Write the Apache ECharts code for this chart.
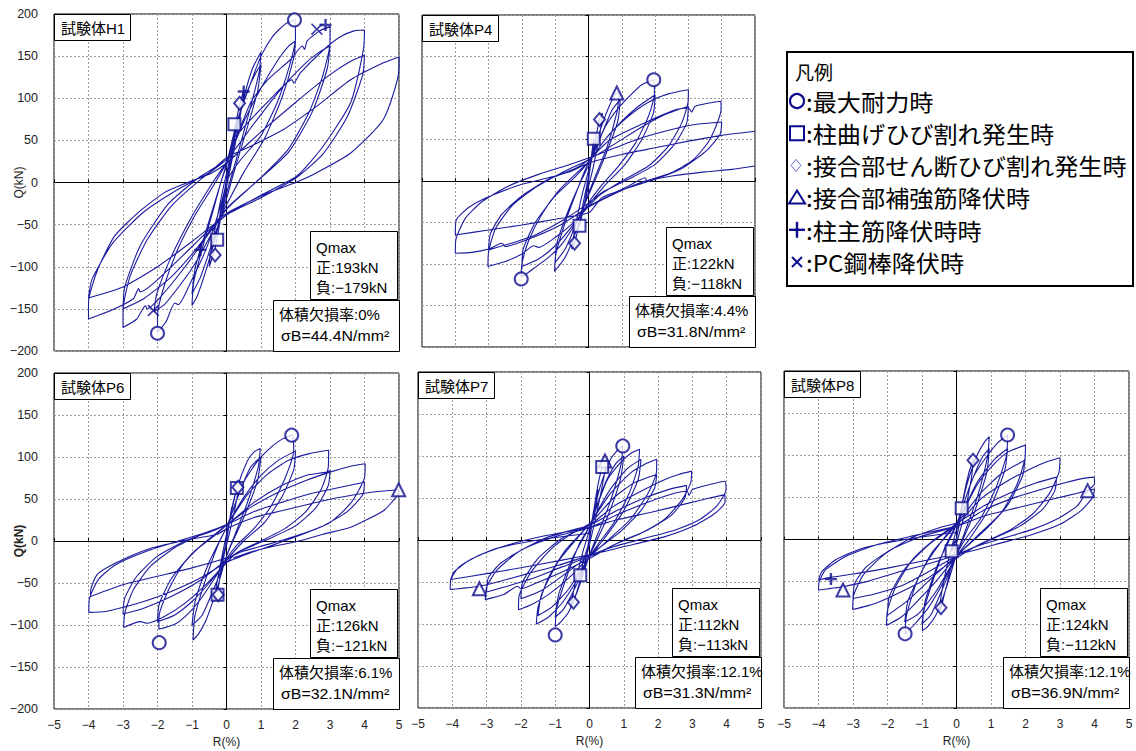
<!DOCTYPE html>
<html>
<head>
<meta charset="utf-8">
<script src="https://cdn.jsdelivr.net/npm/echarts@6/dist/echarts.min.js"></script>
<style>
  html, body { margin: 0; padding: 0; background: #fff; }
  #chart { width: 1136px; height: 751px; }
</style>
</head>
<body>
<div id="chart"></div>
<script>
// ---------- specimen data ----------
const specimens = ['試験体H1', '試験体P4', '試験体P6', '試験体P7', '試験体P8'];
const qmaxPos = [193, 122, 126, 112, 124];          // kN
const qmaxNeg = [-179, -118, -121, -113, -112];     // kN
const qmaxDrift = [[1.97, -2.0], [1.96, -2.02], [1.89, -1.95], [0.97, -1.0], [1.48, -1.49]]; // R(%) at +/- Qmax
const voidRatio = ['0%', '4.4%', '6.1%', '12.1%', '12.1%'];
const sigmaB = ['44.4', '31.8', '32.1', '31.3', '36.9'];   // N/mm2

const eventNames = ['最大耐力時', '柱曲げひび割れ発生時', '接合部せん断ひび割れ発生時',
                    '接合部補強筋降伏時', '柱主筋降伏時時', 'PC鋼棒降伏時'];

// Q-R hysteresis, [R(%), Q(kN)]
const loopH1 = [
  [0,0],[0.1,25],[0.25,58],[0.2,42],[0.05,10],[-0.1,-22],[-0.25,-55],[-0.2,-40],[-0.05,-8],
  [0.1,28],[0.23,62],[0.38,92],[0.5,110],[0.45,92],[0.25,45],[0.05,5],[-0.15,-38],[-0.33,-78],[-0.5,-100],[-0.45,-82],[-0.25,-38],[-0.05,2],
  [0.2,45],[0.5,100],[0.75,135],[1.0,155],[0.95,132],[0.7,90],[0.4,45],[0.15,8],[-0.05,-20],[-0.3,-62],[-0.6,-105],[-0.85,-135],[-1.0,-146],[-0.95,-118],[-0.7,-78],[-0.4,-35],[-0.15,2],[0.02,22],
  [0.3,68],[0.6,108],[0.85,130],[1.0,140],[0.9,108],[0.55,58],[0.2,10],[-0.02,-22],[-0.4,-70],[-0.75,-112],[-1.0,-132],[-0.9,-100],[-0.5,-45],[-0.15,2],[0.02,25],
  [0.3,72],[0.7,118],[1.0,150],[1.35,174],[1.7,188],[1.97,193],[2.0,172],[1.85,142],[1.47,95],[0.99,55],[0.41,27],[0.05,5],[-0.2,-32],[-0.6,-80],[-1.0,-115],[-1.4,-145],[-1.5,-143],[-1.75,-165],[-2.0,-178],[-2.0,-158],[-1.8,-122],[-1.4,-78],[-0.9,-38],[-0.4,-5],[0.02,25],
  [0.5,72],[1.0,112],[1.5,146],[1.8,162],[2.0,168],[1.95,148],[1.6,100],[1.1,52],[0.5,12],[0.02,-25],[-0.5,-66],[-1.0,-102],[-1.5,-130],[-1.8,-145],[-2.1,-153],[-2.02,-132],[-1.6,-88],[-1.0,-40],[-0.4,0],[0.02,26],
  [0.7,95],[1.2,122],[1.86,146],[2.2,162],[2.26,158],[2.34,168],[2.7,180],[3.0,185],[3.0,166],[2.8,128],[2.4,84],[1.8,40],[1.0,6],[0.3,-20],[0,-32],[-0.5,-60],[-1.2,-100],[-2.0,-140],[-2.3,-150],[-2.35,-146],[-2.6,-162],[-3.0,-172],[-3.0,-152],[-2.8,-112],[-2.3,-68],[-1.6,-28],[-0.8,2],[0.02,28],
  [0.8,70],[1.6,112],[2.3,142],[2.7,155],[3.0,162],[2.92,135],[2.5,85],[1.8,36],[0.9,2],[0.02,-30],[-0.8,-75],[-1.6,-112],[-2.4,-138],[-3.0,-150],[-2.95,-124],[-2.5,-75],[-1.7,-26],[-0.8,6],[0.02,28],
  [0.2,51],[1.18,95],[1.9,122],[1.95,118],[2.14,130],[2.8,157],[3.3,173],[3.7,180],[4.0,181],[3.97,158],[3.6,95],[2.8,43],[2.05,8],[1.0,-15],[0.02,-38],[-0.6,-60],[-1.5,-96],[-2.5,-130],[-2.55,-126],[-2.7,-138],[-3.3,-151],[-4.0,-162],[-4.0,-142],[-3.73,-103],[-3.25,-64],[-2.57,-36],[-1.8,-12],[-1.12,0],[-0.44,11],[0.03,24],
  [1.0,60],[2.0,95],[3.0,128],[3.6,144],[4.0,151],[3.95,128],[3.5,78],[2.8,34],[2.0,5],[1.0,-18],[0.02,-38],[-1.0,-70],[-2.0,-100],[-3.0,-124],[-4.0,-137],[-3.9,-115],[-3.3,-72],[-2.4,-35],[-1.4,-8],[-0.5,12],[0.02,30],
  [0.7,43],[1.65,63],[2.63,91],[3.6,122],[4.55,142],[5.0,149],[5.0,135],[4.55,75],[3.6,35],[2.63,12],[2.0,0],[1.17,-13],[0.2,-32],[-0.2,-42]
];

const loopP4 = [
  [0,0],[0.08,28],[0.16,51],[0.1,30],[0,2],[-0.12,-28],[-0.27,-54],[-0.2,-35],[-0.05,-5],
  [0.15,38],[0.33,74],[0.42,82],[0.35,60],[0.15,18],[-0.05,-15],[-0.25,-48],[-0.42,-75],[-0.5,-82],[-0.42,-60],[-0.2,-18],[0,12],
  [0.3,55],[0.6,88],[0.85,106],[0.93,106],[0.85,82],[0.55,40],[0.2,5],[-0.05,-20],[-0.35,-58],[-0.7,-92],[-1.02,-109],[-0.98,-88],[-0.7,-50],[-0.35,-12],[-0.05,18],
  [0.35,52],[0.7,85],[0.95,98],[0.88,72],[0.5,30],[0.1,-8],[-0.3,-45],[-0.7,-82],[-1.0,-98],[-0.95,-75],[-0.6,-35],[-0.2,2],[0.02,20],
  [0.5,65],[0.9,88],[1.3,105],[1.6,116],[1.96,122],[1.98,105],[1.8,78],[1.4,45],[0.9,18],[0.4,-5],[0.02,-25],[-0.4,-52],[-0.8,-76],[-1.2,-92],[-1.6,-104],[-1.8,-110],[-2.02,-116],[-2.0,-100],[-1.8,-72],[-1.4,-40],[-0.9,-12],[-0.4,8],[0.02,24],
  [0.5,50],[1.0,72],[1.5,90],[2.0,104],[1.95,82],[1.6,50],[1.1,20],[0.5,-5],[0.02,-28],[-0.5,-55],[-1.0,-78],[-1.5,-94],[-2.0,-103],[-1.96,-82],[-1.6,-50],[-1.0,-18],[-0.4,5],[0.02,24],
  [0.6,55],[1.2,78],[1.8,95],[2.4,105],[3.0,110],[2.99,95],[2.8,70],[2.4,42],[1.8,18],[1.0,0],[0.3,-18],[0.02,-30],[-0.5,-52],[-1.0,-68],[-1.5,-80],[-1.65,-78],[-2.0,-88],[-2.5,-97],[-3.02,-103],[-3.0,-85],[-2.8,-58],[-2.3,-30],[-1.6,-8],[-0.8,10],[0.02,26],
  [0.8,45],[1.6,65],[2.3,80],[3.0,90],[2.95,70],[2.6,45],[2.0,20],[1.2,2],[0.4,-14],[0.02,-26],[-0.8,-48],[-1.6,-65],[-2.4,-76],[-3.0,-83],[-2.95,-64],[-2.6,-40],[-2.0,-18],[-1.2,2],[-0.4,15],[0.02,26],
  [0.63,49],[1.63,69],[2.63,86],[3.0,88],[3.1,83],[3.2,90],[3.63,94],[3.98,96],[3.98,86],[3.63,49],[3.13,25],[2.43,9],[1.63,-1],[0.8,-15],[0.02,-31],[-0.8,-52],[-1.6,-67],[-2.2,-76],[-2.5,-79],[-2.6,-75],[-3.0,-82],[-3.5,-86],[-4.0,-87],[-3.98,-70],[-3.7,-45],[-3.2,-25],[-2.4,-6],[-1.5,8],[-0.7,18],[0.02,28],
  [0.8,40],[1.6,52],[2.5,62],[3.2,68],[4.0,71],[3.95,56],[3.5,35],[2.8,15],[2.0,2],[1.2,-8],[0.4,-20],[0.02,-38],[-1.0,-46],[-2.0,-53],[-3.0,-59],[-4.0,-65],[-3.97,-47],[-3.6,-32],[-3.0,-19],[-2.0,-4],[-1.0,6],[-0.5,12],[0.02,22],
  [1.0,32],[2.0,40],[3.0,48],[4.0,55],[5.0,60]
];
const loopP4Tail = [
  [-0.3,-40],[0.02,-30],[0.6,-18],[1.2,-6],[1.7,4],[1.75,0],[1.85,1],[2.5,6],[3.5,11],[4.3,14],[5.0,18]
];

const loopP6 = [
  [0,0],[0.08,22],[0.15,40],[0.1,25],[0,2],[-0.1,-25],[-0.2,-45],[-0.15,-28],[0,0],
  [0.15,38],[0.3,63],[0.38,72],[0.3,50],[0.1,12],[-0.1,-22],[-0.26,-60],[-0.35,-72],[-0.28,-50],[-0.1,-12],[0.02,12],
  [0.3,62],[0.6,95],[0.8,106],[0.98,110],[0.92,88],[0.6,45],[0.25,8],[0,-18],[-0.3,-60],[-0.6,-95],[-0.8,-110],[-0.97,-118],[-0.92,-90],[-0.6,-45],[-0.25,-5],[0.02,18],
  [0.35,55],[0.7,88],[1.0,100],[0.9,72],[0.5,28],[0.1,-8],[-0.3,-50],[-0.7,-88],[-1.0,-100],[-0.9,-70],[-0.5,-25],[-0.1,8],[0.02,18],
  [0.5,70],[0.9,95],[1.3,112],[1.6,121],[1.9,126],[1.95,108],[1.7,75],[1.3,42],[0.8,15],[0.3,-5],[0.02,-20],[-0.4,-48],[-0.8,-72],[-1.2,-90],[-1.5,-99],[-1.96,-105],[-1.95,-88],[-1.7,-60],[-1.3,-30],[-0.8,-8],[-0.3,8],[0.02,20],
  [0.5,52],[1.0,78],[1.5,96],[2.0,107],[1.95,85],[1.6,52],[1.1,22],[0.5,0],[0.02,-22],[-0.5,-50],[-1.0,-72],[-1.5,-88],[-2.0,-96],[-1.95,-75],[-1.6,-45],[-1.0,-15],[-0.4,6],[0.02,20],
  [0.6,55],[1.2,80],[1.8,96],[2.4,104],[2.96,108],[2.95,88],[2.75,62],[2.3,35],[1.7,15],[1.0,0],[0.3,-14],[0.02,-25],[-0.6,-52],[-1.2,-74],[-1.8,-90],[-2.3,-98],[-2.5,-96],[-2.98,-103],[-2.95,-86],[-2.7,-58],[-2.2,-30],[-1.5,-8],[-0.7,8],[0.02,20],
  [0.8,46],[1.6,66],[2.3,78],[2.9,82],[3.0,84],[2.95,66],[2.6,40],[2.0,18],[1.2,2],[0.4,-12],[0.02,-22],[-0.8,-48],[-1.6,-66],[-2.4,-80],[-3.0,-87],[-2.95,-68],[-2.6,-42],[-2.0,-18],[-1.2,0],[-0.4,12],[0.02,20],
  [0.7,40],[1.5,58],[2.3,72],[3.0,82],[3.6,89],[4.02,92],[4.0,75],[3.6,45],[3.0,22],[2.2,8],[1.4,-4],[0.7,-14],[0.02,-25],[-0.8,-45],[-1.6,-60],[-2.4,-72],[-3.0,-79],[-3.5,-84],[-3.99,-85],[-3.97,-68],[-3.7,-45],[-3.2,-28],[-2.3,-12],[-1.4,0],[-0.6,10],[0.02,20],
  [0.8,35],[1.6,46],[2.4,56],[3.2,63],[4.0,70],[3.95,55],[3.5,35],[2.8,18],[2.0,6],[1.2,-4],[0.5,-12],[0.02,-20],[-1.0,-32],[-2.0,-42],[-3.0,-52],[-3.94,-66],[-3.94,-60],[-3.75,-40],[-3.2,-26],[-2.3,-10],[-1.3,0],[-0.27,8],[0.02,15],
  [0.8,28],[1.6,36],[2.5,45],[3.3,52],[4.2,58],[4.99,61],[4.95,54],[4.55,36],[4.0,24],[3.58,16],[2.8,8],[2.1,0],[1.4,-6],[0.7,-13],[0.2,-20]
];

const loopP7 = [
  [0,0],[0.1,30],[0.25,60],[0.2,42],[0,5],[-0.1,-22],[-0.25,-42],[-0.2,-28],[0,0],
  [0.2,55],[0.37,87],[0.5,98],[0.42,75],[0.2,30],[0,-5],[-0.25,-45],[-0.47,-74],[-0.55,-80],[-0.45,-58],[-0.2,-15],[0.02,15],
  [0.3,62],[0.6,95],[0.8,106],[0.97,112],[0.92,90],[0.6,45],[0.25,8],[0,-18],[-0.3,-55],[-0.6,-85],[-0.85,-98],[-1.0,-103],[-0.95,-80],[-0.65,-42],[-0.3,-5],[0.02,18],
  [0.4,62],[0.75,90],[1.0,100],[0.9,72],[0.5,25],[0.1,-10],[-0.4,-55],[-0.75,-82],[-1.0,-92],[-0.9,-65],[-0.5,-22],[-0.1,8],[0.02,18],
  [0.5,70],[0.9,92],[1.2,103],[1.46,108],[1.42,88],[1.15,55],[0.7,20],[0.25,-5],[0,-20],[-0.4,-50],[-0.8,-75],[-1.2,-92],[-1.55,-100],[-1.5,-80],[-1.2,-45],[-0.7,-12],[-0.2,10],[0.02,20],
  [0.6,60],[1.1,85],[1.5,96],[1.42,72],[1.0,35],[0.4,0],[0,-20],[-0.6,-58],[-1.1,-80],[-1.5,-90],[-1.4,-65],[-0.9,-25],[-0.3,5],[0.02,20],
  [0.6,55],[1.2,80],[1.6,90],[1.96,96],[1.95,80],[1.7,55],[1.2,25],[0.6,2],[0,-20],[-0.6,-45],[-1.2,-65],[-1.7,-77],[-2.07,-83],[-2.05,-66],[-1.7,-38],[-1.1,-10],[-0.5,8],[0.02,20],
  [0.7,50],[1.3,68],[1.96,78],[1.9,62],[1.5,35],[0.9,10],[0.2,-12],[-0.7,-40],[-1.4,-60],[-2.0,-70],[-1.95,-50],[-1.5,-22],[-0.8,2],[0.02,18],
  [0.7,40],[1.5,58],[2.2,72],[2.6,78],[2.98,82],[2.95,68],[2.7,48],[2.2,25],[1.5,8],[0.7,-6],[0,-22],[-0.8,-38],[-1.6,-52],[-2.0,-58],[-2.1,-55],[-2.5,-65],[-3.04,-71],[-3.0,-56],[-2.7,-36],[-2.1,-15],[-1.3,2],[-0.5,12],[0.02,18],
  [0.8,35],[1.6,50],[2.3,60],[2.83,65],[2.78,50],[2.4,30],[1.7,12],[0.9,-2],[0.1,-18],[-0.8,-32],[-1.6,-45],[-2.4,-55],[-3.0,-62],[-2.95,-45],[-2.6,-28],[-1.9,-10],[-1.0,4],[0.02,15],
  [0.8,30],[1.7,45],[2.5,56],[2.85,58],[2.9,53],[3.0,60],[3.5,66],[3.95,70],[3.98,60],[3.7,40],[3.2,24],[2.5,12],[1.6,2],[0.7,-8],[0,-18],[-0.9,-30],[-1.8,-40],[-2.6,-49],[-3.21,-55],[-3.6,-57],[-4.06,-59],[-4.05,-48],[-3.8,-32],[-3.2,-18],[-2.3,-5],[-1.3,5],[0.02,15],
  [0.8,24],[1.8,33],[2.8,43],[3.5,50],[3.95,54],[3.95,45],[3.6,30],[3.0,16],[2.2,4],[1.3,-5],[0.4,-14],[-0.8,-24],[-2.0,-33],[-3.0,-40],[-4.05,-47],[-3.95,-38],[-3.5,-24],[-2.7,-10],[-1.5,0],[0,8]
];

const loopP8 = [
  [0,0],[0.08,22],[0.15,37],[0.1,22],[0,2],[-0.07,-8],[-0.14,-14],[-0.1,-6],[0,2],
  [0.2,50],[0.35,78],[0.48,94],[0.5,96],[0.42,70],[0.2,25],[0,-5],[-0.2,-40],[-0.38,-70],[-0.45,-81],[-0.5,-85],[-0.42,-60],[-0.2,-18],[0.02,15],
  [0.3,65],[0.6,100],[0.8,115],[0.95,122],[0.9,98],[0.6,50],[0.25,10],[0,-18],[-0.3,-58],[-0.6,-90],[-0.85,-104],[-0.99,-108],[-0.95,-85],[-0.65,-45],[-0.3,-6],[0.02,20],
  [0.4,65],[0.75,98],[0.95,108],[0.88,80],[0.5,30],[0.1,-8],[-0.4,-58],[-0.75,-90],[-1.0,-100],[-0.9,-72],[-0.5,-25],[-0.1,8],[0.02,20],
  [0.5,75],[0.9,100],[1.2,115],[1.48,124],[1.45,100],[1.15,62],[0.7,25],[0.25,0],[0,-18],[-0.4,-52],[-0.8,-80],[-1.2,-100],[-1.49,-112],[-1.45,-90],[-1.15,-50],[-0.7,-15],[-0.2,8],[0.02,20],
  [0.6,68],[1.1,95],[1.48,108],[1.4,82],[1.0,40],[0.4,2],[0,-20],[-0.6,-62],[-1.1,-88],[-1.5,-98],[-1.4,-72],[-0.9,-30],[-0.3,5],[0.02,20],
  [0.6,65],[1.1,90],[1.5,104],[2.0,112],[1.98,95],[1.75,65],[1.3,32],[0.7,8],[0,-20],[-0.6,-50],[-1.2,-76],[-1.6,-92],[-2.03,-102],[-2.0,-84],[-1.75,-55],[-1.3,-25],[-0.7,-2],[0.02,20],
  [0.7,55],[1.3,78],[1.98,94],[1.92,76],[1.5,42],[0.9,14],[0.2,-12],[-0.7,-45],[-1.4,-72],[-2.0,-90],[-1.95,-68],[-1.5,-35],[-0.8,-6],[0.02,18],
  [0.7,48],[1.5,70],[2.2,85],[2.6,92],[3.0,97],[2.97,80],[2.7,55],[2.2,30],[1.5,10],[0.7,-5],[0,-22],[-0.8,-45],[-1.6,-62],[-2.3,-75],[-2.7,-80],[-3.01,-83],[-2.98,-66],[-2.7,-42],[-2.1,-18],[-1.3,2],[-0.5,14],[0.02,20],
  [0.8,40],[1.6,56],[2.3,67],[2.9,74],[2.85,58],[2.5,36],[1.8,15],[1.0,0],[0.2,-15],[-0.8,-38],[-1.6,-55],[-2.4,-65],[-3.0,-70],[-2.95,-52],[-2.6,-32],[-1.9,-12],[-1.0,4],[0.02,16],
  [0.8,35],[1.7,50],[2.5,60],[3.2,68],[3.6,72],[3.99,74],[4.0,66],[3.8,58],[3.5,40],[2.9,24],[2.2,12],[1.4,2],[0.6,-8],[0,-18],[-0.9,-30],[-1.8,-40],[-2.6,-50],[-3.29,-56],[-3.64,-58],[-4.0,-60],[-3.98,-50],[-3.8,-36],[-3.2,-20],[-2.3,-6],[-1.3,4],[-0.4,12],[0.02,16],
  [0.8,28],[1.8,38],[2.8,48],[3.5,55],[3.8,58],[4.0,60],[3.95,50],[3.6,34],[3.0,18],[2.2,6],[1.3,-4],[0.4,-14],[-0.8,-24],[-2.0,-34],[-3.0,-41],[-3.64,-45],[-4.0,-48],[-3.9,-38],[-3.5,-24],[-2.7,-10],[-1.5,0],[-0.5,6],[0,8]
];

// damage events per specimen, [R(%), Q(kN)]
const colFlexCrack   = [[[0.23,69],[-0.27,-68]], [[0.16,51],[-0.27,-54]], [[0.3,63],[-0.26,-64]], [[0.37,87],[-0.27,-42]], [[0.15,37],[-0.14,-14]]];
const jointShearCrack = [[[0.38,94],[-0.33,-86]], [[0.33,74],[-0.42,-75]], [[0.33,64],[-0.24,-64]], [[-0.47,-74]], [[0.48,94],[-0.45,-81]]];
const jointBarYield  = [[], [[0.85,106]], [[4.99,61]], [[0.45,94],[-3.21,-58]], [[3.8,58],[-3.29,-60]]];
const colBarYield    = [[[0.5,108],[2.87,187],[-0.76,-80]], [], [], [], [[-3.64,-47]]];
const pcBarYield     = [[[2.62,182],[-2.12,-152]], [], [], [], []];

const loopPaths = [[loopH1], [loopP4, loopP4Tail], [loopP6], [loopP7], [loopP8]];

// ---------- layout & style ----------
const panels = [
  { left: 54,  top: 14,  width: 345, height: 337, xLabels: false, yLabels: true,  yBold: false },
  { left: 422, top: 15,  width: 333, height: 332, xLabels: false, yLabels: false, yBold: false },
  { left: 54,  top: 373, width: 345, height: 336, xLabels: true,  yLabels: true,  yBold: true },
  { left: 418, top: 372, width: 343, height: 336, xLabels: true,  yLabels: false, yBold: false },
  { left: 784, top: 371, width: 345, height: 337, xLabels: true,  yLabels: false, yBold: false }
];
const LINE = '#1c1c9e';
const MARK = '#0c0c8e';
const LATIN = '"Liberation Sans", Arial, "Noto Sans CJK JP", sans-serif';
const CJK = '"Noto Sans CJK JP", "Liberation Sans", sans-serif';
const minus = v => String(v).replace('-', '\u2212');

const plusPath = 'path://M0,4 L4,4 L4,0 L6,0 L6,4 L10,4 L10,6 L6,6 L6,10 L4,10 L4,6 L0,6 Z';
const crossPath = 'path://M1,0 L5,4 L9,0 L10,1 L6,5 L10,9 L9,10 L5,6 L1,10 L0,9 L4,5 L0,1 Z';

const grid = [], xAxis = [], yAxis = [], series = [], graphic = [];

panels.forEach((p, i) => {
  grid.push({ left: p.left, top: p.top, width: p.width, height: p.height,
    show: true, borderColor: '#000', borderWidth: 1, backgroundColor: 'transparent',
    containLabel: false, outerBoundsMode: 'none' });

  // axis drawn through the origin (line + ticks + dotted grid)
  xAxis.push({ gridIndex: i, type: 'value', min: -5, max: 5, interval: 1, position: 'bottom',
    axisLine: { show: true, onZero: true, lineStyle: { color: '#000', width: 1 } },
    axisTick: { show: true, inside: true, length: 3, lineStyle: { color: '#000' } },
    axisLabel: { show: false },
    splitLine: { show: true, lineStyle: { color: '#9c9c9c', width: 1, type: [2, 2] } } });
  // axis carrying the tick labels along the frame
  xAxis.push({ gridIndex: i, type: 'value', min: -5, max: 5, interval: 1, position: 'bottom',
    axisLine: { show: false, onZero: false }, axisTick: { show: false }, splitLine: { show: false },
    axisLabel: { show: p.xLabels, margin: 10, fontSize: 12, color: '#222', fontFamily: LATIN, formatter: minus },
    name: p.xLabels ? 'R(%)' : '', nameLocation: 'middle', nameGap: 27, nameMoveOverlap: false,
    nameTextStyle: { fontSize: 12, color: '#222', fontFamily: LATIN } });

  yAxis.push({ gridIndex: i, type: 'value', min: -200, max: 200, interval: 50, position: 'left',
    axisLine: { show: true, onZero: true, lineStyle: { color: '#000', width: 1 } },
    axisTick: { show: true, inside: false, length: 3, lineStyle: { color: '#000' } },
    axisLabel: { show: false },
    splitLine: { show: true, lineStyle: { color: '#9c9c9c', width: 1, type: [2, 2] } } });
  yAxis.push({ gridIndex: i, type: 'value', min: -200, max: 200, interval: 50, position: 'left',
    axisLine: { show: false, onZero: false }, axisTick: { show: false }, splitLine: { show: false },
    axisLabel: { show: p.yLabels, margin: 16, fontSize: 12.5, color: '#222', fontFamily: LATIN, formatter: minus } });

  // vertical axis title
  if (p.yLabels) {
    graphic.push({ type: 'text', z: 101, silent: true, x: 19, y: p.top + p.height / 2, rotation: Math.PI / 2,
      style: { text: 'Q(kN)', x: 0, y: 0, fill: '#222', font: (p.yBold ? 'bold ' : '') + '12px ' + LATIN,
        textAlign: 'center', align: 'center', textVerticalAlign: 'middle', verticalAlign: 'middle' } });
  }

  const xi = 2 * i, yi = 2 * i;
  loopPaths[i].forEach(path => series.push({
    type: 'line', xAxisIndex: xi, yAxisIndex: yi, data: path, symbol: 'none', showSymbol: false,
    smooth: 0.2, clip: true, silent: true, lineStyle: { color: LINE, width: 1.1 }, z: 2
  }));

  const hollow = { color: '#fff', borderColor: MARK, borderWidth: 2 };
  const solid = { color: MARK, borderWidth: 0 };
  const marks = [
    { name: eventNames[3], data: jointBarYield[i], symbol: 'triangle', size: 13, style: hollow },
    { name: eventNames[1], data: colFlexCrack[i], symbol: 'rect', size: 12, style: hollow },
    { name: eventNames[2], data: jointShearCrack[i], symbol: 'diamond', size: [11, 13], style: hollow },
    { name: eventNames[0], data: [[qmaxDrift[i][0], qmaxPos[i]], [qmaxDrift[i][1], qmaxNeg[i]]], symbol: 'circle', size: 13, style: hollow },
    { name: eventNames[4], data: colBarYield[i], symbol: plusPath, size: 12, style: solid },
    { name: eventNames[5], data: pcBarYield[i], symbol: crossPath, size: 12, style: solid }
  ];
  marks.forEach((m, k) => {
    if (!m.data.length) return;
    series.push({ type: 'scatter', name: m.name, xAxisIndex: xi, yAxisIndex: yi, data: m.data,
      symbol: m.symbol, symbolSize: m.size, itemStyle: m.style, silent: true, z: 5 + k });
  });

  // annotation boxes
  const R = p.left + p.width, B = p.top + p.height;
  const box = (x, y, w, h) => ({ type: 'rect', z: 100, silent: true,
    shape: { x: x + 0.5, y: y + 0.5, width: w, height: h },
    style: { fill: '#fff', stroke: '#000', lineWidth: 1 } });
  const txt = (s, x, y, size, sx) => ({ type: 'text', z: 101, silent: true,
    x: x, y: y, scaleX: sx || 1,
    style: { text: s, x: 0, y: 0, fill: '#000', font: size + 'px ' + LATIN,
      textVerticalAlign: 'middle', verticalAlign: 'middle', textAlign: 'left', align: 'left' } });

  graphic.push(box(p.left, p.top, 76, 26));
  graphic.push(txt(specimens[i], p.left + 7, p.top + 14, 15));

  const qx = R - 89, qy = B - 120;
  graphic.push(box(qx, qy, 87, 68));
  graphic.push(txt('Qmax', qx + 6, qy + 16, 15));
  graphic.push(txt('正:' + qmaxPos[i] + 'kN', qx + 6, qy + 36, 15));
  graphic.push(txt('負:' + minus(qmaxNeg[i]) + 'kN', qx + 6, qy + 56, 15));

  const vx = R - 126, vy = B - 51;
  graphic.push(box(vx, vy, 126, 51));
  graphic.push(txt('体積欠損率:' + voidRatio[i], vx + 6, vy + 14, 15));
  graphic.push(txt('σB=' + sigmaB[i] + 'N/mm²', vx + 8, vy + 36, 15, 1.06));
});

// ---------- legend (凡例) ----------
graphic.push({ type: 'rect', z: 100, silent: true, shape: { x: 787, y: 52, width: 346, height: 234 },
  style: { fill: '#fff', stroke: '#000', lineWidth: 2 } });
graphic.push({ type: 'text', z: 101, silent: true,
  style: { text: '凡例', x: 795, y: 71, fill: '#000', font: '19px ' + CJK, textVerticalAlign: 'middle', verticalAlign: 'middle' } });
const legendY = k => 101 + 32.2 * k;
const sx = 797;
graphic.push({ type: 'circle', z: 101, silent: true, shape: { cx: sx, cy: legendY(0), r: 7 },
  style: { fill: 'none', stroke: MARK, lineWidth: 2.2 } });
graphic.push({ type: 'rect', z: 101, silent: true, shape: { x: sx - 7, y: legendY(1) - 7, width: 14, height: 14 },
  style: { fill: 'none', stroke: MARK, lineWidth: 2 } });
graphic.push({ type: 'polygon', z: 101, silent: true,
  shape: { points: [[sx - 1, legendY(2) - 6], [sx + 4, legendY(2)], [sx - 1, legendY(2) + 6], [sx - 6, legendY(2)]] },
  style: { fill: 'none', stroke: '#6a6ad0', lineWidth: 1 } });
graphic.push({ type: 'polygon', z: 101, silent: true,
  shape: { points: [[sx, legendY(3) - 7], [sx + 8, legendY(3) + 6], [sx - 8, legendY(3) + 6]] },
  style: { fill: 'none', stroke: MARK, lineWidth: 2 } });
graphic.push({ type: 'line', z: 101, silent: true, shape: { x1: sx - 8, y1: legendY(4), x2: sx + 8, y2: legendY(4) },
  style: { stroke: MARK, lineWidth: 2.4 } });
graphic.push({ type: 'line', z: 101, silent: true, shape: { x1: sx, y1: legendY(4) - 8, x2: sx, y2: legendY(4) + 8 },
  style: { stroke: MARK, lineWidth: 2.4 } });
graphic.push({ type: 'line', z: 101, silent: true, shape: { x1: sx - 5, y1: legendY(5) - 5, x2: sx + 5, y2: legendY(5) + 5 },
  style: { stroke: MARK, lineWidth: 2 } });
graphic.push({ type: 'line', z: 101, silent: true, shape: { x1: sx + 5, y1: legendY(5) - 5, x2: sx - 5, y2: legendY(5) + 5 },
  style: { stroke: MARK, lineWidth: 2 } });
eventNames.forEach((n, k) => {
  graphic.push({ type: 'text', z: 101, silent: true, x: 806, y: legendY(k), scaleX: 1.05,
    style: { text: ':' + n, x: 0, y: 0, fill: '#000', font: '23px ' + CJK,
      textVerticalAlign: 'middle', verticalAlign: 'middle' } });
});

const chart = echarts.init(document.getElementById('chart'), null, { renderer: 'svg' });
chart.setOption({
  animation: false,
  backgroundColor: '#fff',
  grid, xAxis, yAxis, series, graphic
});
</script>
</body>
</html>
